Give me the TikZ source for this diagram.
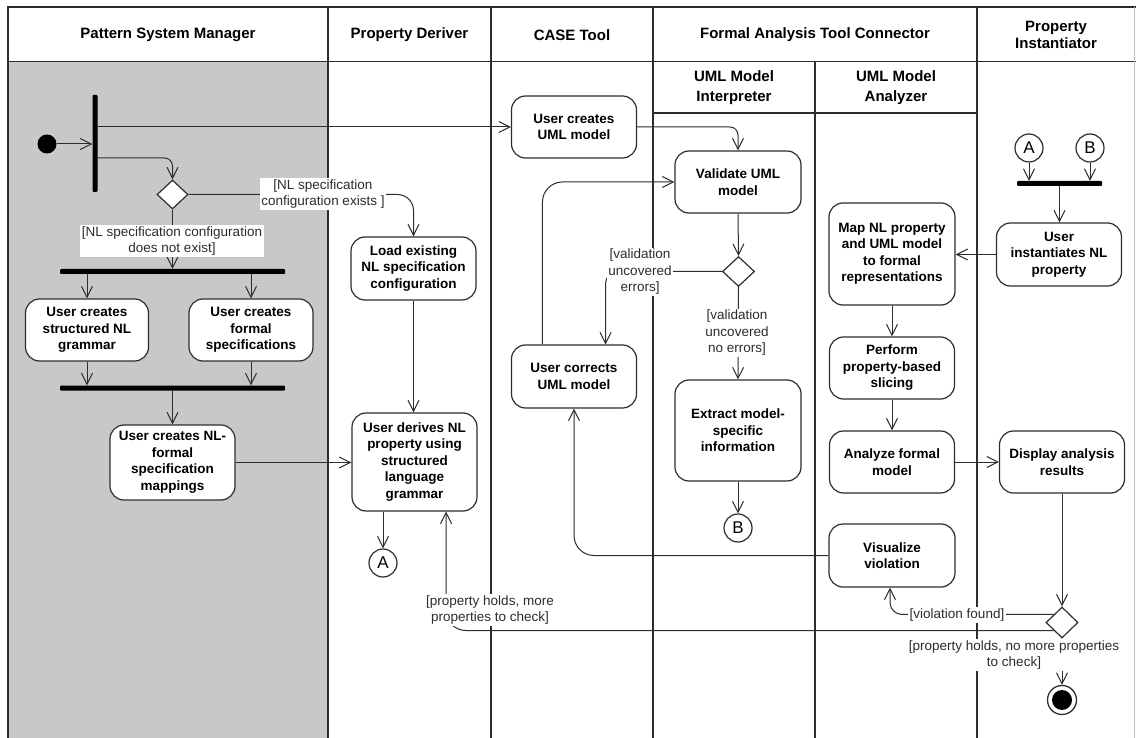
\documentclass[tikz,border=0pt]{standalone}
\usepackage{fontspec}
\setmainfont{Liberation Sans}
\usetikzlibrary{arrows.meta,shapes.geometric,calc}
\definecolor{lanegray}{RGB}{200,200,200}
\definecolor{ink}{RGB}{45,45,45}
\tikzset{
 act/.style={draw=ink, line width=1.2pt, rounded corners=14pt, fill=white, align=center, inner sep=2pt, font=\bfseries\fontsize{13.5}{16.5}\selectfont, text=black},
 guard/.style={fill=white, align=center, inner sep=1.5pt, font=\fontsize{13.5}{16.5}\selectfont, text=ink},
 hdr/.style={align=center, font=\bfseries\fontsize{15}{18}\selectfont, text=black},
 bar/.style={fill=black, inner sep=0pt, rounded corners=1pt},
 dec/.style={diamond, draw=ink, line width=1.2pt, fill=white, inner sep=0pt, minimum width=32pt, minimum height=30pt},
 conn/.style={circle, draw=ink, line width=1.2pt, fill=white, inner sep=0pt, minimum size=28pt, font=\fontsize{17}{20}\selectfont},
 arr/.style={draw=ink, line width=1pt, -{Straight Barb[length=11pt,width=11pt]}},
 lane/.style={draw=ink, line width=1.6pt},
}
\begin{document}
\begin{tikzpicture}[x=1pt,y=-1pt]
\useasboundingbox (0,0) rectangle (1136,738);
% background and lanes
\fill[white] (0,0) rectangle (1136,738);
\fill[lanegray] (8,61.5) rectangle (328,738);
\draw[lane] (8,738) -- (8,7) -- (1136,7);
\draw[lane] (8,61.5) -- (1136,61.5);
\foreach \x in {328,491,653,977} \draw[lane] (\x,7) -- (\x,738);
\draw[lane] (815,61.5) -- (815,738);
\draw[lane] (653,113) -- (977,113);
\draw[draw=black!25, line width=1pt] (1134.5,7) -- (1134.5,738);
% headers
\node[hdr] (h1) at (168,35) {Pattern System Manager};
\node[hdr] (h2) at (409.5,35) {Property Deriver};
\node[hdr] (h3) at (572,35) {CASE Tool};
\node[hdr] (h4) at (815,35) {Formal Analysis Tool Connector};
\node[hdr, font=\bfseries\fontsize{15}{17}\selectfont] (h5) at (1056,35) {Property\\Instantiator};
\node[hdr, font=\bfseries\fontsize{15}{20}\selectfont] (h6) at (734,88) {UML Model\\Interpreter};
\node[hdr, font=\bfseries\fontsize{15}{20}\selectfont] (h7) at (896,88) {UML Model\\Analyzer};
% Pattern System Manager
\node[circle, fill=black, minimum size=19pt, inner sep=0pt] (init) at (47,144) {};
\node[bar, minimum width=5pt, minimum height=97pt] (fork1) at (95,143.5) {};
\coordinate (f1b) at (97,158);
\node[dec, minimum width=31pt, minimum height=29pt] (dec1) at (172.5,194.5) {};
\node[bar, minimum width=225pt, minimum height=5pt] (fork2) at (172.5,271.5) {};
\node[act, minimum width=123pt, minimum height=62pt] (a1) at (87,330) {User creates\\structured NL\\grammar};
\node[act, minimum width=124pt, minimum height=62pt] (a2) at (251,330) {User creates\\formal\\specifications};
\node[bar, minimum width=225pt, minimum height=5pt] (join1) at (172.5,388) {};
\node[act, minimum width=125pt, minimum height=75pt] (a3) at (172.5,462.5) {User creates NL-\\formal\\specification\\mappings};
% Property Deriver
\node[act, minimum width=125pt, minimum height=63pt] (a4) at (413.5,268.5) {Load existing\\NL specification\\configuration};
\node[act, minimum width=125pt, minimum height=98pt] (a5) at (414.5,462) {User derives NL\\property using\\structured\\language\\grammar};
\node[conn] (cA1) at (383,563) {A};
% CASE Tool
\node[act, minimum width=125pt, minimum height=62pt] (a6) at (574,127) {User creates\\UML model};
\node[act, minimum width=125pt, minimum height=63pt] (a7) at (574,376.5) {User corrects\\UML model};
% UML Model Interpreter
\node[act, minimum width=126pt, minimum height=62pt] (a8) at (738,182) {Validate UML\\model};
\node[dec] (dec2) at (738.5,271.5) {};
\node[act, minimum width=126pt, minimum height=101pt] (a9) at (738,430.5) {Extract model-\\specific\\information};
\node[conn] (cB1) at (738,528) {B};
% UML Model Analyzer
\node[act, minimum width=126pt, minimum height=102pt] (a10) at (892,254) {Map NL property\\and UML model\\to formal\\representations};
\node[act, minimum width=125pt, minimum height=62pt] (a11) at (892,368) {Perform\\property-based\\slicing};
\node[act, minimum width=125pt, minimum height=62pt] (a12) at (892,462) {Analyze formal\\model};
\node[act, minimum width=126pt, minimum height=63pt] (a13) at (892,555.5) {Visualize\\violation};
% Property Instantiator
\node[conn] (cA2) at (1029,148) {A};
\node[conn] (cB2) at (1090,148) {B};
\node[bar, minimum width=85pt, minimum height=5pt] (join2) at (1059.5,183.5) {};
\node[act, minimum width=125pt, minimum height=63pt] (a14) at (1059,254.5) {User\\instantiates NL\\property};
\node[act, minimum width=125pt, minimum height=62pt] (a15) at (1062,462) {Display analysis\\results};
\node[dec, minimum height=31pt] (dec3) at (1062,622.5) {};
\node[circle, draw=ink, line width=1.3pt, fill=white, minimum size=29pt, inner sep=0pt] (final) at (1062,700) {};
\fill[black] (final.center) circle (10pt);
% connectors
\draw[arr] (init) -- (init -| fork1.west);
\draw[arr] (fork1.east |- a6.west) -- (a6.west);
\draw[arr, rounded corners=8pt] (f1b) -| (dec1.north);
\draw[arr, rounded corners=16pt] (dec1.east) -| (a4.north);
\draw[arr] (dec1.south) -- (dec1.south |- fork2.north);
\draw[arr] (a1.north |- fork2.south) -- (a1.north);
\draw[arr] (a2.north |- fork2.south) -- (a2.north);
\draw[arr] (a1.south) -- (a1.south |- join1.north);
\draw[arr] (a2.south) -- (a2.south |- join1.north);
\draw[arr] (join1.south) -- (a3.north);
\draw[arr] (a3.east) -- (a3.east -| a5.west);
\draw[arr] (a4.south) -- (a4.south |- a5.north);
\draw[arr] (cA1 |- a5.south) -- (cA1.north);
\draw[arr, rounded corners=8pt] (a6.east) -| (a8.north);
\draw[arr, rounded corners=20pt] ($(a7.north west)!0.25!(a7.north east)$) |- (a8.west);
\draw[arr] (a8.south) -- (dec2.north);
\draw[arr, rounded corners=12pt] (dec2.west) -| ($(a7.north west)!0.75!(a7.north east)$);
\draw[arr] (dec2.south) -- (a9.north);
\draw[arr] (a9.south) -- (cB1.north);
\draw[arr, rounded corners=20pt] (a13.west) -| (a7.south);
\draw[arr] (cA2.south) -- (cA2 |- join2.north);
\draw[arr] (cB2.south) -- (cB2 |- join2.north);
\draw[arr] (join2.south) -- (join2.south |- a14.north);
\draw[arr] (a14.west) -- (a14.west -| a10.east);
\draw[arr] (a10.south) -- (a11.north);
\draw[arr] (a11.south) -- (a12.north);
\draw[arr] (a12.east) -- (a12.east -| a15.west);
\draw[arr] (a15.south) -- (dec3.north);
\draw[arr, rounded corners=12pt] (dec3.north west) -| ($(a13.south)+(-2,0)$);
\draw[arr, rounded corners=20pt] (dec3.south west) -| ($(a5.south west)!0.75!(a5.south east)$);
\draw[arr] (dec3.south) -- (final.north);
% guards
\node[guard] (g1) at (323,194) {[NL specification\\configuration exists ]};
\node[guard] (g2) at (172,241) {[NL specification configuration\\does not exist]};
\node[guard] (g3) at (490,610) {[property holds, more\\properties to check]};
\node[guard] (g4) at (640,272) {[validation\\uncovered\\errors]};
\node[guard] (g5) at (737,333) {[validation\\uncovered\\no errors]};
\node[guard] (g6) at (1014,655) {[property holds, no more properties\\to check]};
\node[guard] (g7) at (957,615) {[violation found]};
\end{tikzpicture}
\end{document}
